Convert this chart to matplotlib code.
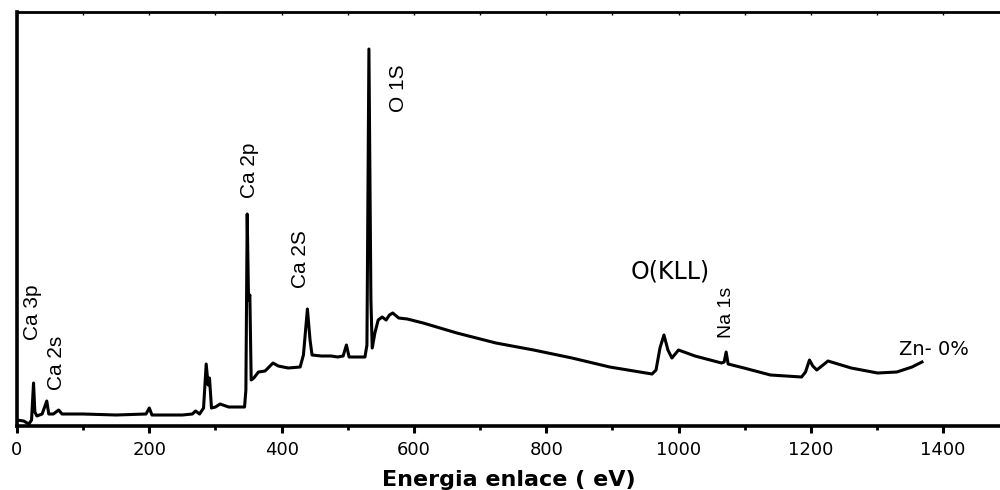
import matplotlib
matplotlib.use("Agg")
import matplotlib.pyplot as plt
from matplotlib.ticker import MultipleLocator

# XPS survey spectrum (arbitrary intensity units)
energy = [0, 10, 18, 22, 25, 27, 30, 38, 45, 48, 55, 63, 68, 100, 150, 195,
          200, 204, 250, 265, 270, 276, 282, 286, 289, 291, 294, 300, 307,
          320, 344, 346, 348, 350, 352, 354, 358, 365, 375, 387, 395, 410,
          428, 433, 439, 443, 446, 460, 475, 485, 493, 498, 502, 515, 526,
          529, 532, 535, 537, 541, 546, 552, 558, 563, 568, 577, 590, 614,
          665, 724, 781, 839, 896, 960, 966, 972, 978, 984, 990, 1000, 1025,
          1065, 1069, 1072, 1075, 1099, 1139, 1186, 1192, 1198, 1203, 1209,
          1226, 1261, 1301, 1330, 1353, 1368]
intensity = [6, 5, 2, 6, 43, 14, 10, 12, 25, 12, 12, 16, 12, 12, 11, 12,
             18, 11, 11, 12, 15, 12, 18, 62, 41, 48, 18, 19, 22,
             19, 19, 36, 212, 126, 131, 46, 48, 54, 55, 63, 60, 58,
             59, 71, 117, 86, 71, 70, 70, 69, 70, 81, 69, 69, 69,
             81, 377, 126, 78, 93, 106, 109, 106, 111, 113, 108, 107, 103,
             93, 83, 76, 68, 59, 52, 56, 78, 91, 76, 68, 76, 70,
             63, 64, 74, 62, 58, 51, 49, 54, 66, 60, 56,
             65, 58, 53, 54, 59, 64]

# peak labels: (text, x in eV, y in intensity units)
rot_labels = ["Ca 3p", "Ca 2s", "Ca 2p", "Ca 2S", "O 1S", "Na 1s"]
rot_x = [24, 60, 352, 428, 577, 1073]
rot_y = [86, 36, 228, 138, 314, 88]
flat_labels = ["O(KLL)", "Zn- 0%"]
flat_x = [988, 1386]
flat_y = [155, 77]

fig = plt.figure(figsize=(10, 4.9), dpi=100)
ax = fig.add_axes([0.017, 0.1306, 0.983, 0.8449])

ax.plot(energy, intensity, color="black", lw=2.2, solid_joinstyle="round")

ax.set_xlim(0, 1486)
ax.set_ylim(0, 414)
ax.xaxis.set_major_locator(MultipleLocator(200))
ax.xaxis.set_minor_locator(MultipleLocator(100))
ax.set_yticks([])
ax.tick_params(axis="x", which="major", direction="out", length=5, width=2.2,
               labelsize=13, pad=6)
ax.tick_params(axis="x", which="minor", direction="out", length=3, width=2)
for lbl in ax.get_xticklabels():
    lbl.set_family("DejaVu Sans")

for side in ["left", "bottom"]:
    ax.spines[side].set_linewidth(2.6)
ax.spines["top"].set_linewidth(2)
ax.spines["right"].set_visible(False)

# small inward ticks along the top frame
top = ax.secondary_xaxis("top")
top.xaxis.set_major_locator(MultipleLocator(100))
top.tick_params(direction="in", length=2.5, width=1, labeltop=False)
top.spines["top"].set_visible(False)

ax.set_xlabel("Energia enlace ( eV)", fontsize=16, fontweight="bold",
              family="DejaVu Sans", labelpad=8)

narrow = ["Liberation Sans Narrow", "Liberation Sans", "DejaVu Sans"]
for txt, x, y in zip(rot_labels, rot_x, rot_y):
    ax.text(x, y, txt, rotation=90, ha="center", va="bottom",
            fontsize=15 if txt != "Na 1s" else 14, family=narrow)
for txt, x, y in zip(flat_labels, flat_x, flat_y):
    ax.text(x, y, txt, ha="center", va="center",
            fontsize=17 if txt == "O(KLL)" else 14, family="DejaVu Sans")

fig.savefig("out.png", dpi=100)
